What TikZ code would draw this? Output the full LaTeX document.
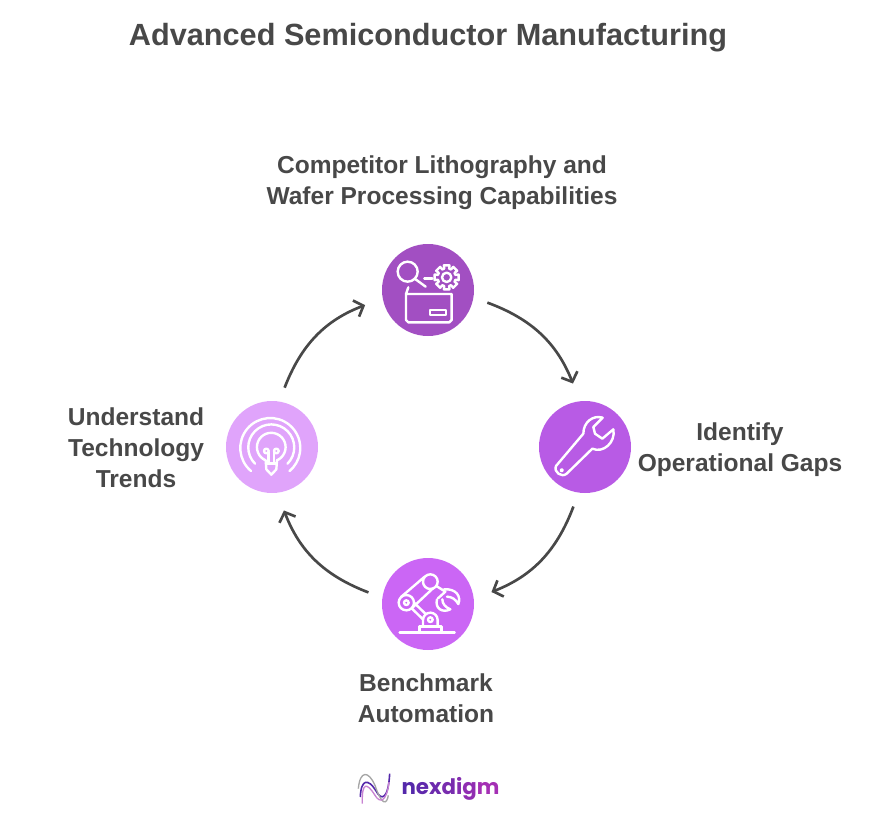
\documentclass[tikz,border=0pt]{standalone}
\usepackage{fontspec}
\setmainfont{Liberation Sans}
\newfontfamily\logofont{Poppins}
\usetikzlibrary{arrows.meta}
\definecolor{inkgray}{RGB}{72,72,72}
\definecolor{compfill}{RGB}{162,79,194}
\definecolor{gapsfill}{RGB}{184,91,229}
\definecolor{autofill}{RGB}{203,102,245}
\definecolor{trendfill}{RGB}{224,164,251}
\definecolor{logoleft}{RGB}{84,40,170}
\definecolor{logoright}{RGB}{164,48,180}
\tikzset{every picture/.style={line width=0.75pt}}
\tikzset{
  stepdisc/.style={circle,minimum size=69pt,inner sep=0pt,outer sep=11pt},
  steplabel/.style={text=inkgray,align=center,font=\fontsize{18.4pt}{23.3pt}\selectfont\bfseries},
  flowarrow/.style={draw=inkgray,line width=2pt,shorten >=3pt,-{Straight Barb[length=6pt,width=13pt,line width=2pt]}},
  iconline/.style={draw=white,line width=1.8pt,line cap=round,line join=round},
  zoomed/.style={x=0.25pt,y=0.25pt},
}
\begin{document}
\begin{tikzpicture}[x=0.75pt,y=0.75pt,yscale=-1,xscale=1]
\useasboundingbox (0,0) rectangle (876,825);

% Text Node
\node (title) at (428,38) [text=inkgray,font=\fontsize{23pt}{28pt}\selectfont\bfseries] {Advanced Semiconductor Manufacturing};

%Circles
\node (comp) at (428,290) [stepdisc,fill=compfill] {};
\node (gaps) at (585,447) [stepdisc,fill=gapsfill] {};
\node (auto) at (428,604) [stepdisc,fill=autofill] {};
\node (trend) at (272,447) [stepdisc,fill=trendfill] {};

%Curve Lines
\draw [flowarrow] (comp.-12) to[bend right=24] (gaps.100);
\draw [flowarrow] (gaps.259) to[bend right=24] (auto.10);
\draw [flowarrow] (auto.169) to[bend right=24] (trend.-80);
\draw [flowarrow] (trend.78) to[bend right=24] (comp.193);

%Icon: magnifier, gear and box
\begin{scope}[shift={(370,235)},zoomed]
\draw [iconline] (113,110) circle (30);
\draw [iconline] (134,131) -- (167,155);
\draw [iconline] (163,130) -- (187,130);
\draw [iconline] (230,127) circle (14);
\draw [iconline] \foreach \a [count=\i] in {0,45,...,315} {
  \ifnum\i=1 ([shift={(230,127)}]\a-13:37) \else -- ([shift={(230,127)}]\a-13:37) \fi
  -- ([shift={(230,127)}]\a+13:37) -- ([shift={(230,127)}]\a+16:27) -- ([shift={(230,127)}]\a+29:27)
} -- cycle;
\draw [iconline] (115,157) -- (108,177) -- (108,255) -- (115,262) -- (238,262) -- (245,255) -- (245,177) -- (108,177);
\draw [iconline] (180,225) rectangle (228,240);
\end{scope}

%Icon: wrench
\begin{scope}[shift={(530,392)},zoomed]
\draw [iconline] (218,77) .. controls (190,68) and (160,90) .. (160,125) -- (78,222) .. controls (70,240) and (95,258) .. (110,245) -- (187,170) .. controls (220,185) and (258,150) .. (250,112) -- (217,140) -- (195,125) -- (190,105) -- cycle;
\draw [iconline] (95,235) circle (3);
\end{scope}

%Icon: robot arm
\begin{scope}[shift={(373,550)},zoomed]
\draw [iconline] (80,247) -- (245,247);
\draw [iconline] (140,247) -- (140,230) -- (205,230) -- (205,247);
\draw [iconline] (150,230) -- (150,210) arc (180:360:22) -- (194,230);
\draw [iconline] (172,209) circle (7);
\draw [iconline] (100,158) circle (23);
\draw [iconline] (100,158) circle (7);
\draw [iconline] (172,95) circle (22);
\draw [iconline] (84,141) -- (155,80);
\draw [iconline] (117,174) -- (180,115);
\draw [iconline] (117,176) -- (150,208);
\draw [iconline] (123,158) -- (158,192);
\draw [iconline] (190,108) -- (217,125) -- (195,145);
\draw [iconline] (213,118) .. controls (250,115) and (265,140) .. (256,162) .. controls (248,148) and (236,140) .. (222,140);
\draw [iconline] (192,148) .. controls (185,175) and (208,190) .. (232,178) .. controls (218,172) and (208,162) .. (208,148);
\end{scope}

%Icon: bulb and waves
\begin{scope}[shift={(217,392)},zoomed]
\draw [iconline] (102,237) arc (130:410:90);
\draw [iconline] (114,215) arc (135:405:69);
\draw [iconline] (146,205) arc (113:427:43);
\draw [iconline] (146,205) -- (148,232) -- (163,248) -- (178,232) -- (180,205);
\draw [iconline] (148,177) circle (7);
\draw [iconline] (178,177) circle (7);
\draw [iconline] (155,180) -- (155,215);
\draw [iconline] (171,180) -- (171,215);
\draw [iconline] (147,215) -- (179,215);
\end{scope}

%Icon: logo curves
\begin{scope}[shift={(345,762)},zoomed]
\draw [line width=1.2pt,draw=logoleft] (46,105) .. controls (48,50) and (70,50) .. (92,85) .. controls (110,120) and (130,110) .. (134,35);
\draw [line width=1pt,draw=gray!70] (40,80) .. controls (45,25) and (70,25) .. (90,70) .. controls (110,130) and (125,130) .. (130,100);
\draw [line width=1pt,draw=logoright!60] (52,125) .. controls (50,60) and (65,60) .. (90,100) .. controls (105,125) and (125,120) .. (132,60);
\end{scope}

% Text Node
\node (complabel) at (442,182.5) [steplabel] {Competitor Lithography and\\Wafer Processing Capabilities};
% Text Node
\node (gapslabel) at (740,449.5) [steplabel] {Identify\\Operational Gaps};
% Text Node
\node (autolabel) at (426,698) [steplabel] {Benchmark\\Automation};
% Text Node
\node (trendlabel) at (136,448) [steplabel] {Understand\\Technology\\Trends};
% Text Node
\node (logotext) at (450.5,789) [font=\logofont\fontsize{16pt}{24pt}\selectfont\bfseries] {\textcolor{logoleft}{n}\textcolor{logoleft!85!logoright}{e}\textcolor{logoleft!70!logoright}{x}\textcolor{logoleft!55!logoright}{d}\textcolor{logoleft!40!logoright}{i}\textcolor{logoleft!25!logoright}{g}\textcolor{logoright}{m}};

\end{tikzpicture}
\end{document}
